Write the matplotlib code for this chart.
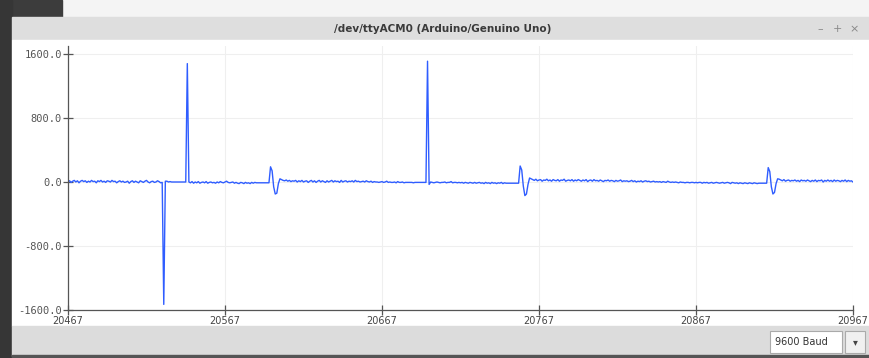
import matplotlib
matplotlib.use("Agg")
import matplotlib.pyplot as plt
from matplotlib.patches import Rectangle

# serial plotter window: 501 samples, x from 20467 to 20967
x_start = 20467
x_ticks = [20467, 20567, 20667, 20767, 20867, 20967]
y_ticks = [-1600.0, -800.0, 0.0, 800.0, 1600.0]

# values, segment by segment
noise_start = [5, 15, -5, 10, 20, 0, 15, -10, 10, 20,
               5, 15, -5, 10, 0, 20, 5, 10, -10, 15,
               5, 20, 0, 10, -5, 15, 10, 0, 20, 5,
               10, -10, 5, 15, 0, 10, -5, 0, 10, -15,
               5, 15, -5, 10, 0, -10, 15, 5, -5, 10,
               20, 0, -10, 5, 10, -5, 0, 15, 5, -10]
neg_spike = [-5, -1530, 10]
flat_1 = [10, 0, 5, 0, 0, 0, 0, 0, 0, 0, 0, 0, 0]
spike_1 = [1480]
noise_2 = [0, -10, 5, -15, 0, -10, 5, -15, -5, 0,
           -10, 5, -15, -5, 0, -10, -5, -15, 0, -10,
           5, -5, -10, 0, 10, -5, -10, -5, 0, -15,
           -5, -15, -20, -5, -10, -20, -5, -15, -10, -20,
           -5, -15, -5, -10, -10, -10, -10, -10, -10, -10,
           -10, -10]
wiggle_1 = [190, 140, -60, -150, -140, -20, 40, 30]
noise_3 = [20, 15, 25, 10, 20, 5, 15, 10, 20, 0,
           15, 5, 20, 0, 10, 15, -5, 10, 20, 0,
           15, -5, 10, 20, 0, 15, 5, -5, 15, 0,
           10, 20, 0, 15, 5, 10, -5, 20, 0, 10,
           15, 0, 10, 5, 15, 0, 20, 5, 10, 0,
           5, 10, 0, 15, 5, 0, 10, -5, 5, 0,
           0, -5, 0, 5, -5, 0, 10, -5, 0, -5,
           -5, 0, -10, 5, -5, -5, 0, -10, -5, -5,
           -5, -5, -5, -10, -5, -5, -5, -5, -5, -5,
           -5, -5]
spike_2 = [1510]
noise_4 = [-30, 0, -5, -10, -5, 0, -5, -10, -5, -5,
           0, -10, -5, -5, 5, -10, -5, -5, -10, -5,
           -10, -5, -15, -5, -10, -15, -5, -10, -15, -5,
           -15, -10, -5, -15, -10, -20, -5, -15, -10, -20,
           -5, -15, -10, -20, -10, -15, -5, -20, -10, -15,
           -15, -15, -15, -15, -15, -15, -15, -15]
wiggle_2 = [200, 150, -50, -170, -150, -30, 50, 40]
noise_5 = [30, 20, 35, 15, 25, 30, 10, 25, 20, 35,
           15, 25, 10, 30, 20, 15, 30, 10, 25, 20,
           35, 10, 20, 25, 15, 30, 10, 25, 15, 30,
           20, 10, 25, 15, 30, 5, 20, 25, 10, 30,
           15, 20, 10, 25, 15, 5, 20, 15, 25, 10,
           20, 15, 5, 20, 10, 15, 25, 5, 15, 10,
           15, 5, 10, 20, 5, 15, 0, 10, 5, 15,
           0, 10, 15, 5, 10, 0, 5, 10, 0, 5,
           0, 5, -5, 5, 0, -5, 10, 0, -5, 0,
           -5, 0, -5, -10, 0, -5, -5, -10, -5, -5,
           -10, -5, -5, -10, -5, -10, -5, -5, -15, -5,
           -10, -5, -15, -10, -5, -15, -10, -5, -10, -15,
           -10, -5, -15, -10, -5, -10, -20, -5, -10, -15,
           -10, -20, -10, -15, -20, -10, -15, -20, -10, -15,
           -20, -10, -15, -20, -15, -15, -15, -15, -15, -15]
wiggle_3 = [180, 130, -60, -150, -130, -20, 40, 35]
noise_6 = [25, 15, 30, 10, 20, 25, 10, 20, 15, 25,
           10, 20, 5, 25, 15, 20, 10, 25, 15, 5,
           20, 10, 25, 5, 20, 15, 25, 0, 20, 10,
           25, 10, 20, 5, 25, 10, 20, 15, 5, 20,
           10, 25, 5, 20, 10, 15, 0]

values = (noise_start + neg_spike + flat_1 + spike_1 + noise_2 + wiggle_1
          + noise_3 + spike_2 + noise_4 + wiggle_2 + noise_5 + wiggle_3 + noise_6)
samples = [x_start + i for i in range(len(values))]

W, H = 869, 358
fig = plt.figure(figsize=(W / 100, H / 100), dpi=100)

# window chrome drawn in pixel coordinates
bg = fig.add_axes([0, 0, 1, 1])
bg.set_xlim(0, W)
bg.set_ylim(H, 0)
bg.axis('off')
bg.add_patch(Rectangle((0, 0), W, 17, color='#f4f4f4'))
bg.add_patch(Rectangle((0, 0), 62, 17, color='#3c3c3c'))
bg.add_patch(Rectangle((0, 0), 12, H, color='#363636'))
bg.add_patch(Rectangle((12, 17), W - 12, 23, color='#dedede'))
bg.add_patch(Rectangle((12, 40), W - 12, 286, color='white'))
bg.add_patch(Rectangle((12, 326), W - 12, 30, color='#dcdcdc'))
bg.add_patch(Rectangle((12, 355), W - 12, 3, color='#555555'))
bg.add_patch(Rectangle((770, 331), 72, 22, facecolor='white', edgecolor='#aaaaaa', lw=0.8))
bg.add_patch(Rectangle((845, 331), 20, 22, facecolor='#f0f0f0', edgecolor='#aaaaaa', lw=0.8))
bg.text(443, 29, '/dev/ttyACM0 (Arduino/Genuino Uno)', ha='center', va='center',
        fontsize=7.5, color='#3a3a3a', fontweight='bold')
bg.text(820, 29, '\u2013', ha='center', va='center', fontsize=8, color='#888888')
bg.text(837, 29, '+', ha='center', va='center', fontsize=8, color='#888888')
bg.text(854, 29, '\u00d7', ha='center', va='center', fontsize=8, color='#888888')
bg.text(775, 342, '9600 Baud', ha='left', va='center', fontsize=7, color='#333333')
bg.text(855, 342, '\u25be', ha='center', va='center', fontsize=7, color='#444444')

ax = fig.add_axes([68 / W, (H - 310) / H, (853 - 68) / W, (310 - 46) / H])
ax.patch.set_alpha(0)
ax.plot(samples, values, color='#2f5dff', lw=1.0)
ax.set_xlim(x_ticks[0], x_ticks[-1])
ax.set_ylim(-1600, 1700)
ax.set_xticks(x_ticks)
ax.set_yticks(y_ticks)
ax.set_xticklabels([str(t) for t in x_ticks], fontsize=7, color='#444444')
ax.set_yticklabels(['%.1f' % t for t in y_ticks], fontsize=7.5, color='#555555',
                   family='DejaVu Sans Mono')
ax.tick_params(direction='inout', length=7, width=0.9, color='#555555', pad=1)
ax.grid(True, color='#efefef', lw=0.8)
ax.set_axisbelow(True)
for side in ['top', 'right']:
    ax.spines[side].set_visible(False)
for side in ['left', 'bottom']:
    ax.spines[side].set_color('#555555')
    ax.spines[side].set_linewidth(0.9)

fig.savefig('out.png', dpi=100)
